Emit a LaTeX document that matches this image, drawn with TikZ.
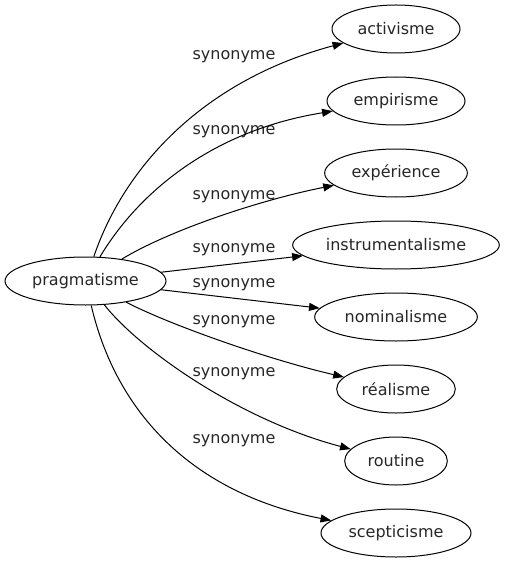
\documentclass[tikz,border=0pt]{standalone}
\usepackage{fontspec}
\setmainfont{DejaVu Sans}
\usetikzlibrary{shapes.geometric,arrows.meta}
\begin{document}
\begin{tikzpicture}[x=0.75pt,y=-0.75pt,
  every node/.style={font=\fontsize{12}{14}\selectfont, text=black!85},
  term/.style={ellipse, draw=black, line width=0.75pt, inner sep=0pt, minimum height=36pt},
  lab/.style={inner sep=0pt},
  edge/.style={draw=black, line width=0.75pt, -{Triangle[length=8pt,width=6pt]}}]
\useasboundingbox (0,0) rectangle (505,563);
\node[term, minimum width=120.75pt] (prag) at (85.5,281) {pragmatisme};
\node[term, minimum width=96pt] (act) at (396,29) {activisme};
\node[term, minimum width=103.5pt] (emp) at (396,101) {empirisme};
\node[term, minimum width=107pt] (exp) at (396,173) {expérience};
\node[term, minimum width=155pt] (ins) at (396,245) {instrumentalisme};
\node[term, minimum width=122pt] (nom) at (396,317) {nominalisme};
\node[term, minimum width=89pt] (rea) at (396,389) {réalisme};
\node[term, minimum width=77pt] (rou) at (396,461) {routine};
\node[term, minimum width=112.5pt] (sce) at (396,533) {scepticisme};
\node[lab] (l1) at (234,57) {synonyme};
\node[lab] (l2) at (234,132) {synonyme};
\node[lab] (l3) at (234,197) {synonyme};
\node[lab] (l4) at (234,250) {synonyme};
\node[lab] (l5) at (234,285) {synonyme};
\node[lab] (l6) at (234,322) {synonyme};
\node[lab] (l7) at (234,374) {synonyme};
\node[lab] (l8) at (234,441) {synonyme};
\draw[edge] (prag) .. controls (125,165) and (205,80) .. (act);
\draw[edge] (prag) .. controls (140,190) and (215,130) .. (emp);
\draw[edge] (prag) .. controls (170,230) and (260,200) .. (exp);
\draw[edge] (prag) -- (ins);
\draw[edge] (prag) -- (nom);
\draw[edge] (prag) .. controls (170,325) and (270,360) .. (rea);
\draw[edge] (prag) .. controls (140,350) and (240,420) .. (rou);
\draw[edge] (prag) .. controls (118,420) and (200,495) .. (sce);
\end{tikzpicture}
\end{document}
